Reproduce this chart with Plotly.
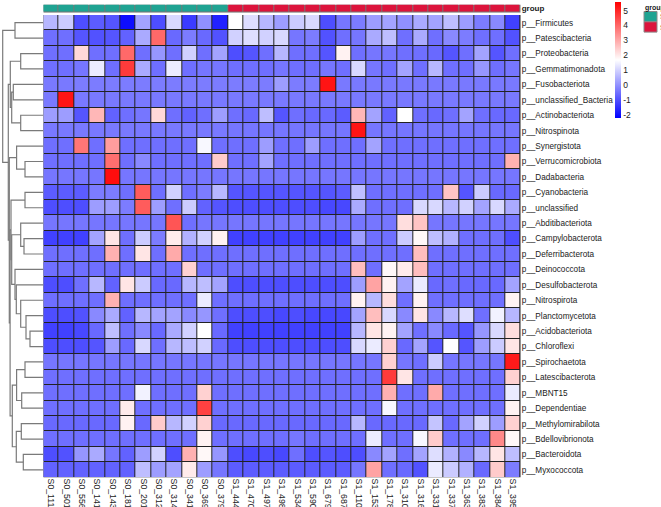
import plotly.graph_objects as go

row_labels = ["p__Firmicutes", "p__Patescibacteria", "p__Proteobacteria", "p__Gemmatimonadota",
              "p__Fusobacteriota", "p__unclassified_Bacteria", "p__Actinobacteriota", "p__Nitrospinota",
              "p__Synergistota", "p__Verrucomicrobiota", "p__Dadabacteria", "p__Cyanobacteria",
              "p__unclassified", "p__Abditibacteriota", "p__Campylobacterota", "p__Deferribacterota",
              "p__Deinococcota", "p__Desulfobacterota", "p__Nitrospirota", "p__Planctomycetota",
              "p__Acidobacteriota", "p__Chloroflexi", "p__Spirochaetota", "p__Latescibacterota",
              "p__MBNT15", "p__Dependentiae", "p__Methylomirabilota", "p__Bdellovibrionota",
              "p__Bacteroidota", "p__Myxococcota"]

col_labels = ["S0_111", "S0_501", "S0_556", "S0_141", "S0_143", "S0_181", "S0_201", "S0_312",
              "S0_314", "S0_341", "S0_369", "S0_379",
              "S1_444", "S1_470", "S1_497", "S1_498", "S1_534", "S1_590", "S1_679", "S1_687",
              "S1_110", "S1_153", "S1_178", "S1_310", "S1_316", "S1_331", "S1_337", "S1_363",
              "S1_383", "S1_384", "S1_395"]

col_groups = ["S0"] * 12 + ["S1"] * 19
group_levels = ["S0", "S1"]
group_colors = {"S0": "#1FA392", "S1": "#DC143C"}

legend_ticks = [-2, -1, 0, 1, 2, 3, 4, 5]
legend_tick_text = ["-2", "-1", "0", "1", "2", "3", "4", "5"]

z_values = [
    [0.6, 0.9, -1.0, -0.8, -0.9, -2.0, 0.3, -1.0, 1.1, -1.3, 0.0, -1.7, 1.7, 1.2, 0.6, 0.2, 0.9, 1.1, -1.0, -0.4, -0.3, 0.2, 0.3, 0.0, 0.4, 0.3, 0.7, 0.2, -0.3, -0.1, -1.2],
    [-0.5, -0.5, -0.9, -0.95, -0.9, -0.7, 0.4, 4.0, -0.6, -0.3, -0.6, -0.95, 1.0, 1.2, 1.0, 1.1, -0.4, -0.3, -0.95, -0.5, -0.4, 0.4, 0.7, -0.5, 0.4, -0.5, -0.1, -0.3, -0.5, -0.5, -0.95],
    [-0.5, -0.5, 2.3, -0.5, -0.5, 4.0, -0.5, 0.1, -0.5, 1.0, -0.5, 0.3, -1.0, -0.9, -0.5, 0.6, -0.5, -0.5, -0.9, 1.9, -0.5, -0.4, -0.4, -0.5, -0.5, -0.6, -0.9, -0.5, 0.3, -0.9, -0.5],
    [-0.5, -0.5, -0.4, 1.4, -0.5, 4.7, 0.4, -0.5, 1.4, -0.5, -0.4, -0.4, -0.5, -0.5, -0.5, -0.4, -0.5, -0.5, -0.4, -0.5, 1.1, -0.4, -0.5, 0.3, -0.5, 0.6, -0.5, -0.5, 0.1, -0.5, -0.4],
    [-0.35, -0.35, -0.3, -0.3, -0.3, -0.3, -0.3, -0.3, -0.3, -0.3, -0.3, -0.3, -0.3, -0.3, -0.3, 0.2, -0.3, -0.3, 5.3, -0.35, -0.35, -0.35, -0.35, -0.35, -0.35, -0.35, -0.35, -0.35, -0.35, -0.35, -0.35],
    [-0.35, 5.3, -0.35, -0.35, -0.35, -0.35, -0.35, -0.35, -0.35, -0.35, -0.35, -0.35, -0.35, -0.35, -0.35, -0.35, -0.35, -0.35, -0.35, -0.35, -0.35, -0.35, -0.35, -0.35, -0.35, -0.35, -0.35, -0.35, -0.35, -0.35, -0.35],
    [0.2, 0.2, -0.9, 2.8, -0.7, -0.5, -0.4, 2.3, -0.5, -0.7, -0.5, 0.2, -0.5, -0.6, 0.7, -0.9, -0.5, -0.6, -0.6, -0.8, 2.8, 0.3, -0.7, 1.7, -0.5, -0.6, -0.5, 0.3, -0.5, -0.6, -0.6],
    [-0.35, -0.35, -0.35, -0.35, -0.35, -0.35, -0.35, -0.35, -0.35, -0.35, -0.35, -0.35, -0.4, -0.4, -0.4, -0.4, -0.4, -0.4, -0.4, -0.4, 5.3, -0.4, -0.4, -0.4, -0.4, -0.4, -0.4, -0.4, -0.4, -0.4, -0.4],
    [-0.5, -0.5, 3.8, -0.5, 3.2, -0.5, -0.5, -0.5, -0.5, -0.5, 1.6, -0.5, -0.5, -0.5, 0.2, -0.5, -0.5, 0.2, -0.5, -0.5, -0.5, 0.3, -0.5, -0.5, -0.5, -0.5, -0.5, -0.5, -0.5, -0.5, -0.5],
    [-0.5, -0.5, -0.5, -0.5, 3.9, -0.5, -0.1, -0.5, -0.5, -0.5, -0.5, 2.5, -0.5, -0.5, 0.3, -0.5, -0.5, -0.5, -0.5, -0.5, -0.5, -0.5, -0.5, -0.5, -0.5, -0.5, -0.5, -0.5, -0.5, -0.5, 2.9],
    [-0.4, -0.4, -0.4, -0.4, 5.4, -0.4, -0.4, -0.4, -0.4, -0.4, -0.4, -0.4, -0.4, -0.4, -0.4, -0.4, -0.4, -0.4, -0.4, -0.4, -0.4, -0.4, -0.4, -0.4, -0.4, -0.4, -0.4, -0.4, -0.4, -0.4, -0.4],
    [-0.8, -0.8, -0.8, -0.3, -0.3, -0.5, 4.2, -0.5, 1.0, -0.5, -0.3, 0.6, -0.9, -0.9, -0.9, -0.9, -0.9, -0.9, -0.9, -0.8, 0.7, -0.5, -0.5, -0.5, -0.5, -0.5, 2.6, -0.9, 0.9, -0.6, -0.6],
    [-1.0, -1.0, -1.0, 0.2, 0.2, -0.3, 4.2, 0.2, -0.5, 0.9, -0.7, -0.9, -1.0, -1.0, -1.0, -1.0, -1.0, -1.0, -1.1, -1.1, 0.4, -0.5, -0.5, -0.5, 1.1, 1.1, 0.6, 1.0, 0.3, 1.1, 0.4],
    [-0.4, -0.4, -0.4, -0.4, -0.4, -0.4, -0.4, -0.4, 4.3, -0.5, -0.4, -0.4, -0.4, -0.4, -0.4, -0.4, -0.4, -0.4, -0.4, -0.4, -0.4, -0.4, -0.4, 2.2, 2.6, -0.4, -0.4, -0.4, -0.4, -0.4, -0.4],
    [-1.2, -1.2, -1.2, 0.3, 2.1, -0.5, 0.9, -0.3, 2.0, 0.5, 1.0, 1.9, -1.2, -1.2, -1.2, -1.2, -1.2, -1.2, -1.2, -1.2, 0.2, -0.5, -0.5, 0.9, 1.8, 0.7, 0.5, -0.5, -0.5, -0.5, -1.0],
    [-0.5, -0.5, -0.5, -0.5, 2.9, -0.5, 2.1, -0.5, 3.0, -0.5, -0.5, -0.5, -0.5, -0.5, -0.5, -0.5, -0.5, -0.5, -0.5, -0.5, -0.5, -0.5, -0.5, -0.5, 2.7, -0.5, -0.5, -0.5, -0.5, -0.5, -0.5],
    [-0.5, -0.5, -0.5, -0.5, -0.5, -0.5, -0.5, -0.5, -0.5, 2.4, -0.5, -0.5, -0.5, -0.5, -0.5, -0.5, -0.5, -0.5, -0.5, -0.5, 2.7, -0.5, 1.8, 2.0, 2.7, -0.5, -0.5, -0.5, -0.5, -0.5, -0.5],
    [-1.0, -1.0, -0.5, 0.6, -0.7, 2.1, 0.9, -0.6, -0.6, 0.6, 0.7, 0.3, -1.0, -1.0, -1.0, -1.0, -1.0, -1.0, -1.0, -1.0, 0.2, 3.1, 1.9, 0.3, 1.4, -0.6, -0.5, -0.6, -0.6, -0.6, 0.3],
    [-0.5, -0.5, -0.5, -0.5, 2.9, -0.5, -0.5, -0.5, -0.5, -0.5, 1.4, -0.5, -0.5, -0.5, -0.5, -0.5, -0.5, -0.5, -0.5, -0.5, 1.9, 0.6, 2.2, -0.5, 1.9, -0.5, -0.5, -0.5, -0.5, -0.5, 1.9],
    [-1.0, -1.0, -0.95, -0.1, 0.4, -0.7, 0.6, 0.3, 0.3, -0.1, 0.1, -0.5, -1.0, -1.0, -1.0, -1.1, -1.0, -1.1, -1.1, -1.1, 0.3, 2.7, 1.1, -0.1, 2.1, -0.1, 0.6, 1.2, -0.5, 1.5, 0.6],
    [-1.2, -1.2, -1.1, -0.6, 0.7, -0.5, -0.1, -0.6, 0.4, 1.0, 1.7, -0.6, -1.2, -1.2, -1.2, -1.2, -1.2, -1.2, -1.2, -1.2, 0.6, 2.1, 1.9, 0.3, -0.5, -0.1, -0.6, -0.9, 0.1, 1.1, 2.2],
    [-1.0, -1.0, -1.0, -0.9, 0.2, -0.6, 1.1, -0.5, 0.6, 0.7, 1.0, -0.6, -1.0, -1.0, -1.0, -1.0, -1.0, -1.0, -1.0, -1.0, 1.1, 1.4, 2.4, -0.6, 0.3, -0.9, 1.7, -0.9, 0.2, 0.9, 2.1],
    [-0.4, -0.4, -0.4, -0.4, -0.4, -0.4, -0.4, -0.4, -0.4, -0.4, -0.4, -0.4, -0.4, -0.4, -0.4, -0.4, -0.4, -0.4, -0.4, -0.4, -0.4, -0.4, 2.4, -0.4, -0.5, 0.9, -0.4, -0.4, -0.4, -0.4, 5.2],
    [-0.5, -0.5, -0.5, -0.5, -0.5, -0.5, -0.5, -0.5, -0.5, -0.5, -0.5, -0.5, -0.5, -0.5, -0.5, -0.5, -0.5, -0.5, -0.5, -0.5, -0.5, -0.5, 4.7, 2.1, -0.5, -0.5, -0.5, -0.5, -0.5, -0.5, 2.4],
    [-0.5, -0.5, -0.5, -0.5, -0.5, -0.5, 1.5, -0.5, -0.5, -0.5, 2.4, -0.5, -0.5, -0.5, -0.5, -0.5, -0.5, -0.5, -0.5, -0.5, -0.5, -0.5, 2.9, -0.5, -0.5, 3.0, -0.5, -0.5, -0.5, -0.5, 1.4],
    [-0.5, -0.5, -0.5, -0.5, -0.5, 2.0, -0.5, -0.5, -0.5, -0.5, 4.6, -0.5, -0.5, -0.5, -0.5, -0.5, -0.5, -0.5, -0.5, -0.5, -0.5, -0.5, 1.6, -0.5, -0.5, -0.5, -0.5, -0.5, -0.5, -0.5, 1.9],
    [-0.6, -0.6, -0.6, -0.6, -0.6, 1.9, -0.6, 2.5, 0.6, 1.0, 2.4, -0.6, -0.6, -0.6, -0.6, -0.6, -0.6, -0.6, -0.6, -0.6, 0.6, -0.6, -0.6, -0.6, -0.6, 0.8, -0.6, 0.3, 1.0, 0.2, 2.4],
    [-0.5, -0.5, -0.5, -0.5, -0.5, -0.5, -0.5, -0.5, -0.5, -0.5, 1.9, -0.5, -0.5, -0.5, -0.5, -0.5, -0.4, -0.5, -0.5, -0.5, -0.5, 1.4, -0.5, -0.5, 1.6, 2.5, -0.5, -0.5, -0.5, 3.5, 1.8],
    [-1.0, -0.95, 0.1, 0.4, -0.4, -0.7, 0.2, 1.0, -1.0, 2.9, 1.8, 0.1, -1.0, -1.1, -1.0, -1.1, -0.5, -1.0, -0.9, -1.0, -1.0, -0.1, 0.3, -0.5, 0.3, 1.2, 0.5, -0.1, 0.6, 2.1, 0.7],
    [-0.7, -0.7, -0.7, -0.7, -0.7, -0.7, 0.7, 0.2, 0.3, 2.0, 0.2, -0.4, -0.8, -0.8, -0.8, -0.8, -0.8, -0.8, -0.8, -0.8, -0.4, 3.1, -0.5, -0.6, -0.95, 1.4, 0.9, 0.5, -0.6, 2.5, -0.3],
]

# row dendrogram: (node, left child, right child, merge height); ints are leaf rows
row_merges = [
    ("A", 0, 1, 28.3), ("B", 2, 3, 22.6), ("C", 4, 5, 30.0), ("D", 6, 7, 22.6),
    ("CD", "C", "D", 31.6), ("BCD", "B", "CD", 33.0),
    ("E", 9, 10, 18.3), ("F", 8, "E", 26.7),
    ("G", 11, 12, 18.3), ("H", 14, 15, 19.3), ("I", 13, "H", 22.6),
    ("K", 20, 21, 13.3), ("L", 19, "K", 17.3), ("M", 18, "L", 22.6), ("N", 17, "M", 27.0),
    ("P", 16, "N", 28.3), ("Q", "I", "P", 31.6), ("GQ", "G", "Q", 32.3),
    ("R", 22, 23, 18.3), ("O", 24, 25, 21.6), ("S", "R", "O", 26.7),
    ("T", 26, 27, 22.0), ("U", 28, 29, 20.0), ("V", "T", "U", 27.0), ("SV", "S", "V", 31.0),
    ("Y", "GQ", "SV", 33.2), ("X2", "F", "Y", 34.0), ("X1", "BCD", "X2", 35.0),
    ("ROOT", "A", "X1", 40.6),
]

n_rows = len(row_labels)
n_cols = len(col_labels)
for r in z_values:
    assert len(r) == n_cols
assert len(z_values) == n_rows

# ---- dendrogram segments from the merge table ----
pos = {}
hgt = {}
for i in range(n_rows):
    pos[i] = float(i)
    hgt[i] = 0.0
dx, dy = [], []
for name, a, b, h in row_merges:
    ya, yb = pos[a], pos[b]
    dx += [hgt[a], h, h, hgt[b], None]
    dy += [ya, ya, yb, yb, None]
    pos[name] = (ya + yb) / 2
    hgt[name] = h

W, H = 661, 507
hm_x0, hm_x1 = 43.3 / W, 520.7 / W
hm_top, hm_bot = 1 - 15.0 / H, 1 - 477.6 / H
ann_top, ann_bot = 1 - 4.5 / H, 1 - 12.8 / H
fam = "'Liberation Sans', Arial, sans-serif"
txt = "#1a1a1a"

fig = go.Figure()

fig.add_trace(go.Heatmap(
    z=z_values, x=list(range(n_cols)), y=list(range(n_rows)),
    colorscale=[[0, "#0000FF"], [0.5, "#FFFFFF"], [1, "#FF0000"]],
    zmin=-2.2, zmax=5.6, xgap=1, ygap=1, hoverinfo="skip",
    colorbar=dict(x=615 / W, xanchor="left", y=1 - 1.7 / H, yanchor="top",
                  len=116 / H, lenmode="fraction", thickness=6, xpad=0, ypad=0,
                  outlinewidth=0, tickvals=legend_ticks, ticktext=legend_tick_text, ticks="",
                  tickfont=dict(size=8.5, color=txt, family=fam)),
))

grp_idx = [[group_levels.index(g) for g in col_groups]]
fig.add_trace(go.Heatmap(
    z=grp_idx, x=list(range(n_cols)), y=[0], xaxis="x", yaxis="y2",
    colorscale=[[0, group_colors["S0"]], [0.5, group_colors["S0"]],
                [0.5, group_colors["S1"]], [1, group_colors["S1"]]],
    zmin=0, zmax=1, showscale=False, xgap=1, ygap=1, hoverinfo="skip",
))

fig.add_trace(go.Scatter(x=dx, y=dy, xaxis="x2", yaxis="y", mode="lines",
                         line=dict(color="#7a7a7a", width=1.2), hoverinfo="skip",
                         showlegend=False))

shapes = [
    dict(type="rect", xref="x", yref="y", x0=-0.5, x1=n_cols - 0.5, y0=-0.5, y1=n_rows - 0.5,
         fillcolor="#222222", line=dict(width=0), layer="below"),
    dict(type="rect", xref="x", yref="y2", x0=-0.5, x1=n_cols - 0.5, y0=-0.5, y1=0.5,
         fillcolor="#777777", line=dict(width=0), layer="below"),
]
# group legend
lg_x0, lg_x1 = 644 / W, 657 / W
box_tops = [11.5, 21.8]
for i, g in enumerate(group_levels):
    shapes.append(dict(type="rect", xref="paper", yref="paper", x0=lg_x0, x1=lg_x1,
                       y0=1 - box_tops[i] / H, y1=1 - (box_tops[i] + 10.3) / H,
                       fillcolor=group_colors[g], line=dict(color="#8a8a8a", width=1)))

annotations = [dict(text="<b>group</b>", xref="paper", yref="paper", x=642.5 / W, y=1 - 2 / H,
                    xanchor="left", yanchor="top", showarrow=False,
                    font=dict(size=7, color=txt, family=fam))]
for i, g in enumerate(group_levels):
    annotations.append(dict(text=g, xref="paper", yref="paper", x=657.5 / W,
                            y=1 - (box_tops[i] + 5.2) / H, xanchor="left", yanchor="middle",
                            showarrow=False, font=dict(size=8, color=txt, family=fam)))

fig.update_layout(
    width=W, height=H, margin=dict(l=0, r=0, t=0, b=0),
    paper_bgcolor="white", plot_bgcolor="white", template="none",
    showlegend=False, shapes=shapes, annotations=annotations,
    font=dict(family=fam, size=8.5, color=txt),
    xaxis=dict(domain=[hm_x0, hm_x1], range=[-0.5, n_cols - 0.5], anchor="y",
               tickvals=list(range(n_cols)), ticktext=col_labels, tickangle=90,
               ticks="", showgrid=False, zeroline=False, showline=False, automargin=False,
               ticklabelstandoff=0,
               tickfont=dict(size=8.7, color=txt, family=fam)),
    yaxis=dict(domain=[hm_bot, hm_top], range=[n_rows - 0.5, -0.5], anchor="x", side="right",
               tickvals=list(range(n_rows)), ticktext=row_labels, ticks="",
               showgrid=False, zeroline=False, showline=False, automargin=False,
               tickfont=dict(size=8.2, color=txt, family=fam)),
    xaxis2=dict(domain=[0, hm_x0], range=[43.3, 0], anchor="y", showticklabels=False,
                ticks="", showgrid=False, zeroline=False, showline=False, automargin=False),
    yaxis2=dict(domain=[ann_bot, ann_top], range=[-0.5, 0.5], anchor="x", side="right",
                tickvals=[0], ticktext=["<b>group</b>"], ticks="", showgrid=False,
                zeroline=False, showline=False, automargin=False,
                tickfont=dict(size=8, color=txt, family=fam)),
)

fig.write_html("out.html")
